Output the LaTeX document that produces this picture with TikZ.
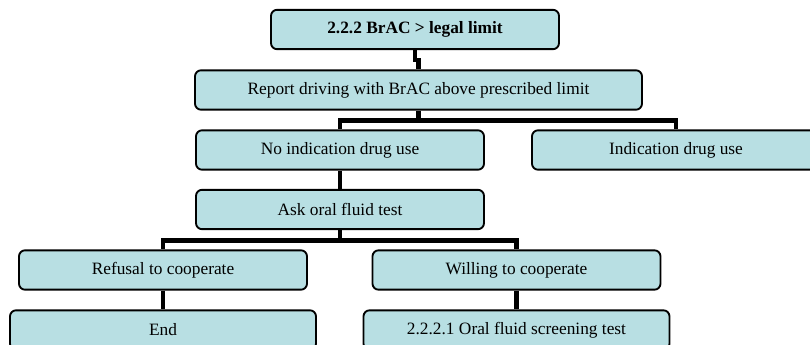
\documentclass[tikz,border=0pt]{standalone}
\usepackage{fontspec}
\setmainfont{Liberation Serif}
\usetikzlibrary{positioning}
\definecolor{boxcyan}{RGB}{184, 223, 227}

\begin{document}
\begin{tikzpicture}[
    x=0.75pt, y=-0.75pt,
    box/.style={draw, line width=1.4pt, rounded corners=4.5pt, fill=boxcyan,
      minimum width=216pt, minimum height=29.5pt, inner sep=2pt,
      font=\fontsize{13}{15.6}\selectfont},
    link/.style={line width=3.2pt}
  ]
    \useasboundingbox (0,0) rectangle (810,345);
    \clip (0,0) rectangle (810,345);

    \node[box, font=\fontsize{13}{15.6}\selectfont\bfseries]
          (limit) at (415,29.5) {2.2.2 BrAC > legal limit};
    \node[box, minimum width=335.25pt] (report) at (418.5,90)
          {Report driving with BrAC above prescribed limit};
    \node[box] (noind) at (340,150) {No indication drug use};
    \node[box] (ind) at (676,150) {Indication drug use};
    \node[box] (ask) at (340,209.5) {Ask oral fluid test};
    \node[box] (refuse) at (163,270) {Refusal to cooperate};
    \node[box] (willing) at (516.5,270) {Willing to cooperate};
    \node[box, minimum width=229.5pt] (end) at (163,330) {End};
    \node[box, minimum width=229.5pt] (oral) at (516.5,330)
          {2.2.2.1 Oral fluid screening test};

    % tree links, square elbows
    \draw[link] (limit.south) -- ++(0,10) -| (report.north);
    \draw[link] (report.south) -- ++(0,10) -| (noind.north);
    \draw[link] (report.south) -- ++(0,10) -| (ind.north);
    \draw[link] (noind.south) -- (ask.north);
    \draw[link] (ask.south) -- ++(0,10.5) -| (refuse.north);
    \draw[link] (ask.south) -- ++(0,10.5) -| (willing.north);
    \draw[link] (refuse.south) -- (end.north);
    \draw[link] (willing.south) -- (oral.north);
  \end{tikzpicture}
\end{document}
